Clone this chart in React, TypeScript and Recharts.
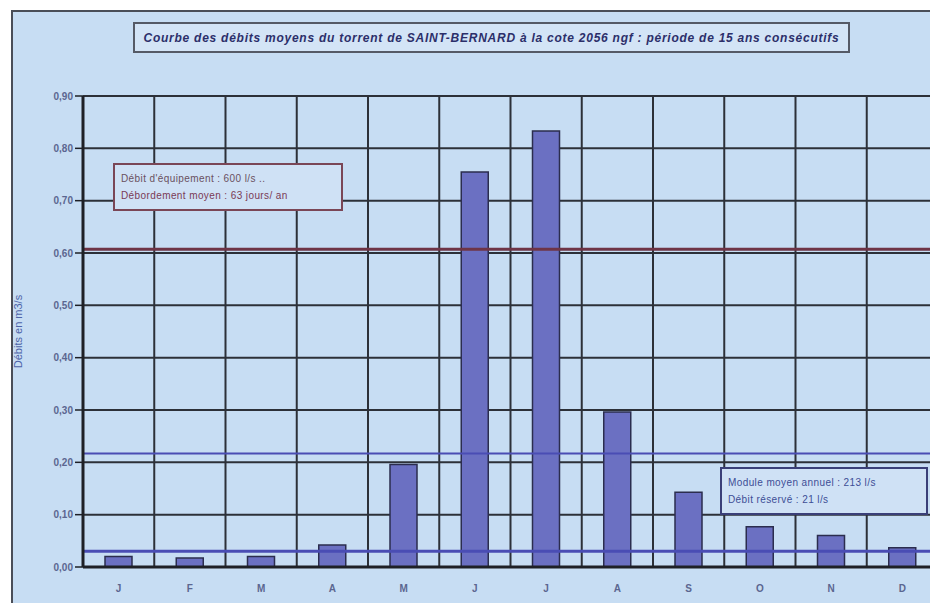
import { BarChart, Bar, XAxis, YAxis, CartesianGrid, ReferenceLine } from 'recharts';

// mean monthly flows, m3/s
const months = ['J', 'F', 'M', 'A', 'M', 'J', 'J', 'A', 'S', 'O', 'N', 'D'];
const flows = [0.02, 0.017, 0.02, 0.042, 0.196, 0.755, 0.833, 0.296, 0.143, 0.077, 0.06, 0.037];
const yTicks = [0, 0.1, 0.2, 0.3, 0.4, 0.5, 0.6, 0.7, 0.8, 0.9];

// horizontal reference levels
const equipmentFlow = 0.607;
const annualModule = 0.217;
const reservedFlow = 0.03;

const data = months.map((m, i) => ({ key: `${m}${i}`, month: m, flow: flows[i] }));

const title =
  'Courbe des débits moyens du torrent de SAINT-BERNARD à la cote 2056 ngf : période de 15 ans consécutifs';

const boxText = {
  fontFamily: 'Liberation Sans, Arial, sans-serif',
  fontSize: 10,
  lineHeight: '17px',
  letterSpacing: 0.4,
};

const App = () => {
  // vertical grid on the month boundaries rather than the centers
  const boundaries = ({ offset }: any) =>
    Array.from({ length: 13 }, (_, i) => offset.left + (i * offset.width) / 12);

  return (
    <div style={{ margin: -8, width: 938, height: 611, position: 'relative', background: '#fff', overflow: 'hidden' }}>
      <div
        style={{
          position: 'absolute', left: 11, top: 10, width: 940, height: 596,
          background: '#c7ddf3', border: '2px solid #4a4e58', boxSizing: 'border-box',
        }}
      />
      <div style={{ position: 'absolute', left: 0, top: 0 }}>
        <BarChart
          width={938}
          height={611}
          data={data}
          margin={{ top: 96, right: 0, left: 0, bottom: 14 }}
        >
          <CartesianGrid
            stroke="#2c3038"
            strokeWidth={2}
            verticalCoordinatesGenerator={boundaries}
          />
          <XAxis
            dataKey="key"
            tickFormatter={(_, i) => months[i]}
            axisLine={{ stroke: '#1e2026', strokeWidth: 3 }}
            tickLine={false}
            tick={{ fontSize: 10, fill: '#5b6690', fontWeight: 700, fontFamily: 'Liberation Sans, Arial' }}
            tickMargin={12}
            interval={0}
          />
          <YAxis
            width={83}
            domain={[0, 0.9]}
            ticks={yTicks}
            tickFormatter={(v: number) => v.toFixed(2).replace('.', ',')}
            axisLine={{ stroke: '#1e2026', strokeWidth: 3 }}
            tickLine={{ stroke: '#1e2026', strokeWidth: 1.5 }}
            tickSize={8}
            tick={{ fontSize: 10, fill: '#5b6690', fontWeight: 700, fontFamily: 'Liberation Sans, Arial' }}
            label={{
              value: 'Débits en m3/s',
              angle: -90,
              position: 'insideLeft',
              offset: 18,
              style: { fontSize: 11, fill: '#4e64a8', fontFamily: 'Liberation Sans, Arial', textAnchor: 'middle' },
            }}
          />
          <Bar
            dataKey="flow"
            fill="#6b70c2"
            stroke="#2b2d4e"
            strokeWidth={1.5}
            barSize={27}
            isAnimationActive={false}
          />
          <ReferenceLine y={equipmentFlow} stroke="#6e3446" strokeWidth={3} />
          <ReferenceLine y={annualModule} stroke="#4a4db4" strokeWidth={2} />
          <ReferenceLine y={reservedFlow} stroke="#4a4db4" strokeWidth={3} />
        </BarChart>
      </div>

      <div
        style={{
          position: 'absolute', left: 133, top: 22, width: 717, height: 31, boxSizing: 'border-box',
          border: '2px solid #555a66', background: '#d3e4f6', display: 'flex', alignItems: 'center',
          justifyContent: 'center', fontFamily: 'Liberation Sans, Arial, sans-serif', fontSize: 12,
          letterSpacing: 0.75, fontWeight: 700, fontStyle: 'italic', color: '#2c2f6a', whiteSpace: 'nowrap',
        }}
      >
        {title}
      </div>

      <div
        style={{
          ...boxText, position: 'absolute', left: 113, top: 163, width: 230, height: 48, boxSizing: 'border-box',
          border: '2px solid #7a4656', background: '#cfe1f5', padding: '5px 0 0 6px', color: '#6a5060',
        }}
      >
        <div>Débit d'équipement : 600 l/s ..</div>
        <div style={{ color: '#7a3a55' }}>Débordement moyen : 63 jours/ an</div>
      </div>

      <div
        style={{
          ...boxText, position: 'absolute', left: 720, top: 467, width: 208, height: 48, boxSizing: 'border-box',
          border: '2px solid #3a3f78', background: '#cfe1f5', padding: '5px 0 0 6px', color: '#3d4e96',
        }}
      >
        <div>Module moyen annuel : 213 l/s</div>
        <div>Débit réservé : 21 l/s</div>
      </div>
    </div>
  );
};

export default App;
